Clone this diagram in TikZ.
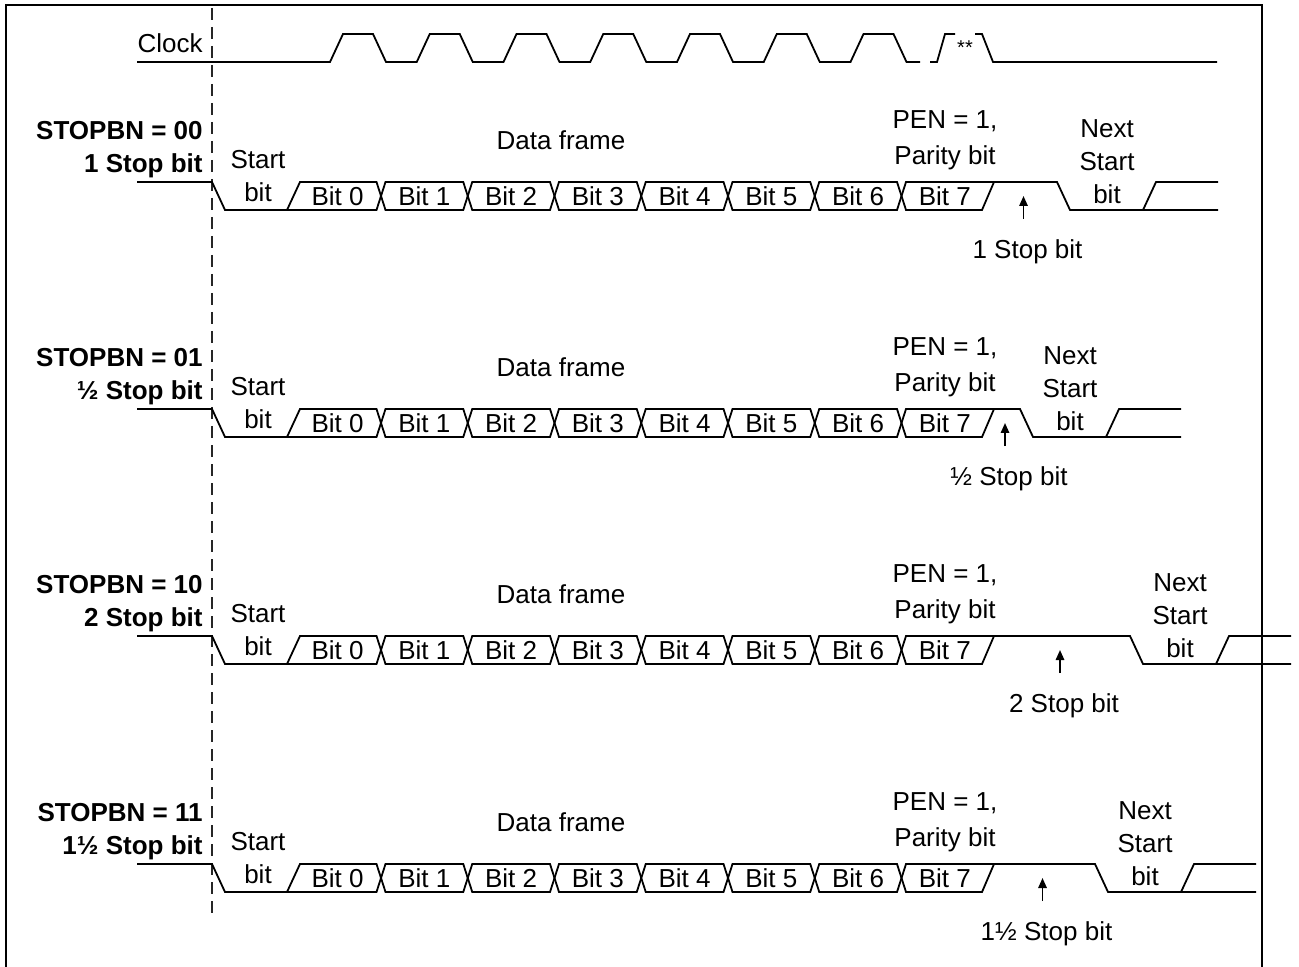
\documentclass[tikz,border=0pt]{standalone}
\usepackage{fontspec}
\setmainfont{Liberation Sans}
\usetikzlibrary{arrows.meta, positioning}
\colorlet{SigLine}{black}
\colorlet{GuideLine}{black!85}
\newcommand{\uartframe}[4]{% high level y, end of stop bit, STOPBN code, stop bits
\begin{scope}[shift={(0,#1)}]
    % Mode label
    \node[mode, anchor=east] (mode-#3) at (205,-32) {STOPBN = #3\\#4 Stop bit};
    % Start bit, data bits, stop bit, next start bit
    \draw[sig] (137,0) -- (212,0) -- (225,28) -- (287,28) -- (300,0)
        \foreach \xc/\ya/\yb in {381/0/28, 467.75/28/0, 554.5/0/28, 641.25/28/0,
                                 728/0/28, 814.75/28/0, 901.5/0/28}
        { -- (\xc-4.5,\ya) -- (\xc+4.5,\yb) }
        -- (982,28) -- (994,0) -- (#2,0) -- ({#2+13},28) -- ({#2+161},28);
    \draw[sig] (287,28)
        \foreach \xc/\ya/\yb in {381/0/28, 467.75/28/0, 554.5/0/28, 641.25/28/0,
                                 728/0/28, 814.75/28/0, 901.5/0/28}
        { -- (\xc-4.5,\yb) -- (\xc+4.5,\ya) }
        -- (994,0);
    \draw[sig] ({#2+86},28) -- ({#2+99},0) -- ({#2+161},0);
    % Labels
    \node[lbl] (start-#3) at (258,-5.5) {Start\\bit};
    \foreach \k in {0,...,7} {
        \node[lbl] (bit\k-#3) at ({337.6+86.75*\k},14) {Bit \k};
    }
    \node[lbl] (frame-#3) at (561,-42) {Data frame};
    \node[lbl] (pen-#3) at (945,-42) {PEN = 1,\\[1.5pt]Parity bit};
    \node[lbl] (next-#3) at ({#2+50},-20) {Next\\Start\\bit};
    % Stop bit marker
    \coordinate (arrtail-#3) at ({(994+#2)/2-2},37);
    \coordinate (arrtip-#3) at ({(994+#2)/2-2},14);
    \draw[arr] (arrtail-#3) -- (arrtip-#3);
    \node[lbl, below=9pt of arrtail-#3, xshift=2pt] (stop-#3) {#4 Stop bit};
\end{scope}
}

\begin{document}
\begin{tikzpicture}[
    x=0.5pt, y=-0.5pt,
    sig/.style={SigLine, line width=0.9pt},
    lbl/.style={font=\fontsize{13}{16.5}\selectfont, align=center, inner sep=1pt},
    mode/.style={font=\fontsize{13}{16.5}\selectfont\bfseries, align=right, inner sep=1pt},
    arr/.style={-{Triangle[length=5pt, width=4.2pt]}, SigLine, line width=0.9pt},
    guide/.style={GuideLine, line width=0.9pt, dash pattern=on 6pt off 3.5pt},
    frm/.style={black, line width=1.4pt}
]
\useasboundingbox (0,0) rectangle (1299,967);

% ===================================================================
% FRAME AND START MARKER
% ===================================================================
\draw[frm] (6,967) -- (6,5) -- (1262,5) -- (1262,967);
\draw[guide] (212,8) -- (212,914);

% ===================================================================
% CLOCK
% ===================================================================
\node[lbl, anchor=east] (clock) at (205,43) {Clock};
\draw[sig] (137,62)
    \foreach \xr in {330,416.75,503.5,590.25,677,763.75,850.5}
    { -- (\xr,62) -- (\xr+13,34) -- (\xr+43,34) -- (\xr+56,62) }
    -- (920,62);
\draw[sig] (930,62) -- (937,62) -- (945,34) -- (955,34);
\draw[sig] (975,34) -- (982,34) -- (993,62) -- (1217,62);
\node[font=\fontsize{10}{12}\selectfont, inner sep=0pt] (stars) at (965,48) {**};

% ===================================================================
% FRAMES FOR EACH STOPBN SETTING
% ===================================================================
\uartframe{182}{1057}{00}{1}
\uartframe{409}{1020}{01}{½}
\uartframe{636}{1130}{10}{2}
\uartframe{864}{1095}{11}{1½}

\end{tikzpicture}
\end{document}
